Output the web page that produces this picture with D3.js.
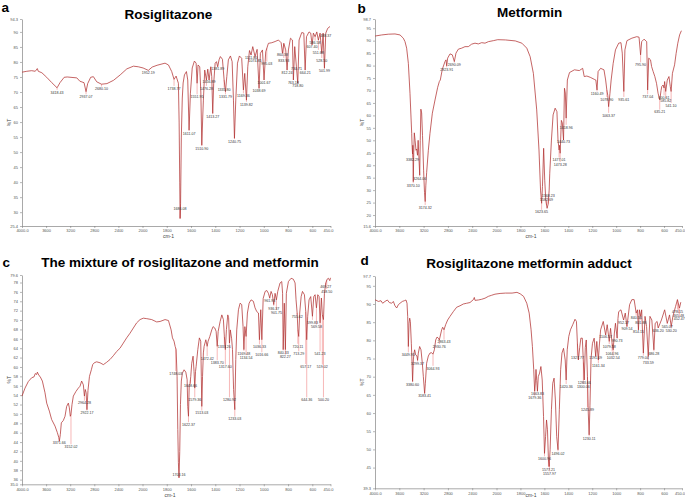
<!DOCTYPE html>
<html>
<head>
<meta charset="utf-8">
<script src="https://cdn.jsdelivr.net/npm/d3@7/dist/d3.min.js"></script>
<style>
  body { margin: 0; background: #fff; }
  svg { display: block; font-family: "Liberation Sans", Arial, sans-serif; }
</style>
</head>
<body>
<svg id="chart" width="685" height="499"></svg>
<script>
// FTIR spectra, four panels. Wavenumber (cm-1) against %T.

const xTicks = [4000, 3600, 3200, 2800, 2400, 2000, 1800, 1600, 1400, 1200, 1000, 800, 600, 450];

const titles = ["Rosiglitazone", "Metformin", "The mixture of rosiglitazone and metformin", "Rosiglitazone metformin adduct"];
const letters = ["a", "b", "c", "d"];

const yTicksA = [30, 35, 40, 45, 50, 55, 60, 65, 70, 75, 80, 85, 90];
const yTicksB = [20, 25, 30, 35, 40, 45, 50, 55, 60, 65, 70, 75, 80, 85, 90, 95];
const yTicksC = [36, 38, 40, 42, 44, 46, 48, 50, 52, 54, 56, 58, 60, 62, 64, 66, 68, 70, 72, 74, 76, 78];
const yTicksD = [45, 50, 55, 60, 65, 70, 75, 80, 85, 90, 95];

const yEndsA = [25.4, 94.3];
const yEndsB = [15.6, 98.7];
const yEndsC = [35.0, 79.6];
const yEndsD = [39.3, 97.7];

// [wavenumber, %T]
const specA = [
  [4000,76.6],[3920,76.9],[3840,77.1],[3780,76.9],[3746,77.8],[3730,76.9],[3670,76.4],[3590,74.9],[3505,73.1],[3418,71.4],
  [3370,73.1],[3300,74.9],[3250,75.0],[3090,74.7],[3040,73.6],[2970,73.1],[2937,70.1],[2910,72.8],[2860,74.9],[2815,75.1],
  [2760,73.4],[2680,72.6],[2590,72.8],[2480,73.9],[2370,75.7],[2260,77.7],[2150,78.6],[2070,78.4],[1995,78.0],[1952,77.2],
  [1920,78.3],[1880,78.9],[1814,79.6],[1786,79.0],[1759,76.8],[1740,74.2],[1723,75.3],[1704,72.9],[1698,60],[1693,40],
  [1690,27.9],[1686,33],[1680,55],[1672,68],[1665,73],[1654,75.7],[1638,76.8],[1627,74],[1616,57.3],[1605,69.6],
  [1590,78],[1572,80.3],[1558,79.6],[1550,72.9],[1542,79],[1528,78.4],[1519,70],[1511,52.3],[1503,62],[1498,67.3],
  [1487,77.3],[1473,74],[1462,77.6],[1451,74],[1437,78.4],[1429,75.1],[1421,62.9],[1413,72.9],[1401,79.6],[1390,80.1],
  [1380,78.4],[1369,80.7],[1358,81.8],[1341,80.9],[1327,74],[1316,70.1],[1305,75.1],[1292,80.7],[1275,82],[1261,80.1],
  [1250,67.3],[1242,54.6],[1231,67.3],[1217,79.6],[1201,82],[1182,81.2],[1168,70.7],[1157,76.2],[1143,67.3],[1132,78.4],
  [1118,83.8],[1105,82.3],[1091,85.1],[1072,81.8],[1055,84.2],[1039,71.2],[1028,82.9],[1011,84],[998,74],[984,83.4],
  [962,86.2],[934,86.4],[907,86.8],[879,87.3],[857,86.4],[846,82.9],[835,86.2],[819,84],[808,77.3],[797,84],
  [780,87.9],[764,87.3],[756,74],[745,85.1],[731,78.4],[720,72.9],[709,87.3],[687,89.8],[670,89.6],[659,77.3],
  [648,88.4],[627,90],[613,89.6],[602,85.7],[591,89.6],[577,88.4],[563,90],[550,87.3],[536,89.6],[522,82.9],
  [511,89.6],[500,77.9],[489,89.6],[473,91.2],[454,91.8]
];

const specB = [
  [4000,91.8],[3989,91.9],[3890,92.3],[3781,92.6],[3671,92.7],[3588,92.3],[3534,91.0],[3506,89.6],[3479,87.0],[3451,80.9],
  [3424,68.9],[3396,52.8],[3388,47],[3382,44.5],[3377,48],[3370,33.4],[3362,45],[3353,53],[3340,50],[3325,46],
  [3314,46.5],[3300,44],[3290,50],[3275,42],[3264,36],[3255,50],[3245,62.5],[3232,61],[3218,52],[3200,38],
  [3185,29],[3174,25.4],[3163,32],[3150,37],[3122,46],[3095,52.8],[3056,60.9],[3012,66.2],[2968,71.3],[2941,73.6],
  [2925,74.2],[2892,78.5],[2848,81.6],[2831,82.3],[2820,79.9],[2804,83],[2765,84.7],[2727,84.3],[2694,81.6],[2667,85],
  [2628,86.6],[2573,87],[2519,87.6],[2464,87.6],[2409,88.6],[2354,89],[2299,88.7],[2244,89.2],[2189,89],[2134,89.6],
  [2052,90],[1990,90.4],[1925,90.3],[1843,89.9],[1788,89],[1747,87],[1719,83.6],[1692,76.9],[1664,62.2],[1645,46.1],
  [1632,30],[1623,24.7],[1616,31.4],[1606,46.8],[1597,34],[1588,26],[1582,24],[1577,22.7],[1568,24.5],[1560,30],
  [1555,36.8],[1541,50.1],[1527,60.2],[1510,62.9],[1495,61.5],[1486,50.1],[1477,46.1],[1473,48],[1468,44.8],[1458,58],
  [1450,57],[1440,50.1],[1432,70.9],[1425,69],[1418,58.9],[1408,74.2],[1390,77.2],[1349,78.3],[1308,78],[1280,78.9],
  [1267,75.6],[1245,75.8],[1217,75.3],[1184,74.5],[1170,74.2],[1160,70.2],[1151,77.6],[1130,78.9],[1102,78.3],[1088,74.2],
  [1078,70.2],[1070,68],[1063,63.5],[1052,68.9],[1042,74.2],[1025,80.9],[1006,86.3],[979,89],[960,89.2],[949,85],
  [936,69.6],[927,86.3],[910,90],[869,91],[828,91.6],[809,91.4],[796,84.3],[787,89.6],[767,90.6],[745,89.6],
  [737,70.2],[728,83],[713,82.3],[704,79.6],[691,77.6],[677,75.6],[663,72.9],[650,68.9],[636,66.2],[625,70],
  [619,71.6],[608,72.2],[600,71],[595,73.6],[586,69.6],[573,74.2],[559,75.6],[548,71.6],[541,69.6],[530,76.9],
  [512,80.3],[499,84.9],[485,89],[470,92.3],[455,94]
];

const specC = [
  [4000,53.8],[3950,55.5],[3895,56.9],[3840,57.7],[3800,57.9],[3780,58.6],[3757,58.4],[3745,58.9],[3720,58.2],[3701,58],
  [3662,57],[3618,54.5],[3590,52.3],[3546,50.6],[3508,48.8],[3452,47.4],[3413,46],[3390,45],[3380,44.2],[3364,45.6],
  [3347,48.1],[3314,48.6],[3286,49.5],[3259,51.6],[3231,52.3],[3214,51.3],[3198,49.5],[3187,49.9],[3170,52],[3148,53.8],
  [3104,54.8],[3065,55.5],[3037,55.9],[3010,57],[2982,56.2],[2964,53.8],[2950,55.2],[2935,54.5],[2922,50.9],[2905,55],
  [2880,58],[2849,59.4],[2827,60.5],[2800,60.9],[2761,61.1],[2705,60.9],[2650,60.5],[2595,61],[2539,61.6],[2484,62.4],
  [2429,63.3],[2373,64],[2318,65.1],[2263,66.2],[2207,67.2],[2152,68.3],[2097,69.4],[2041,70.1],[1993,70.4],[1965,70.3],
  [1924,70.1],[1883,69.6],[1855,69.7],[1814,70.1],[1786,69.9],[1764,67.9],[1753,66.2],[1740,65.5],[1731,64.4],[1723,63.7],
  [1715,58],[1709,46.7],[1704,39.6],[1699,36.4],[1693,42],[1687,52],[1680,57],[1671,58.7],[1657,59.4],[1643,58.9],
  [1632,57.3],[1627,51.6],[1621,49.5],[1615,56],[1608,56.5],[1602,58],[1594,60.8],[1583,62.3],[1575,59],[1569,55.5],
  [1563,59],[1558,60.1],[1544,63.7],[1531,66.2],[1520,65.5],[1515,58],[1511,51.6],[1505,58],[1498,63],[1492,64.4],
  [1478,65.8],[1467,64.4],[1459,65.5],[1445,66.5],[1429,67.9],[1418,68.6],[1404,68.3],[1393,67.6],[1384,64.4],[1376,67.6],
  [1360,69.7],[1346,71.1],[1333,70.1],[1325,66.5],[1317,63.7],[1308,68],[1297,71.1],[1290,70.5],[1283,65.1],[1276,67.9],
  [1265,66],[1258,63.7],[1249,55.2],[1239,50.9],[1231,61.6],[1223,67.9],[1209,72.2],[1195,73.6],[1182,73.3],[1171,68.6],
  [1164,63.7],[1156,68.6],[1146,66.5],[1135,71.5],[1121,73.6],[1105,74.3],[1086,74],[1072,72.6],[1058,71.8],[1044,71.5],
  [1036,65.8],[1025,72.2],[1016,65.8],[1005,74.6],[989,76.1],[975,76.3],[962,75.7],[951,74.7],[940,76.1],[929,75.4],
  [918,73.3],[907,75.7],[896,74.3],[885,76.1],[866,77.9],[852,78.2],[845,75.7],[840,63.7],[831,73.6],[822,63.7],
  [814,75.7],[797,78.2],[775,78.9],[756,78.7],[742,77.9],[734,74.3],[725,71.5],[719,68],[712,66.5],[704,71.5],
  [692,75],[681,76.1],[665,75.4],[654,71.8],[646,65.8],[638,70.8],[627,74.3],[613,75],[599,70.8],[588,75],
  [577,75.4],[566,72.6],[555,75.4],[544,75],[536,69.4],[525,74.7],[517,71.1],[508,70.1],[500,75.7],[489,77.9],
  [478,78.7],[467,78.9],[456,78.4],[450,79]
];

const specD = [
  [4000,91.0],[3989,91.1],[3945,90.7],[3901,90.9],[3874,90.2],[3835,90.7],[3797,91.1],[3764,90.4],[3726,90.2],[3698,90.7],
  [3671,89.5],[3643,88.9],[3616,89.8],[3588,90.2],[3550,90.7],[3517,90.9],[3490,91.1],[3473,90.2],[3462,86.6],[3451,78.3],
  [3440,84.7],[3429,86.1],[3418,85.2],[3402,79.2],[3390,73.7],[3381,68.7],[3369,74.6],[3358,76.5],[3347,77.4],[3331,76],
  [3309,75.7],[3299,74.5],[3287,76.5],[3265,78.3],[3243,77.4],[3221,73.7],[3204,70],[3183,65.4],[3171,68.2],[3150,73.7],
  [3122,75.7],[3095,76.5],[3067,76.6],[3045,76.2],[3023,77.4],[3001,80.1],[2979,80.9],[2957,80.6],[2941,80.1],[2903,82.9],
  [2886,83.6],[2864,82.9],[2837,84.3],[2804,85.6],[2765,86.6],[2711,87.9],[2656,89.1],[2601,89.5],[2546,90],[2491,90.2],
  [2436,90.4],[2381,91.2],[2365,91.8],[2354,91],[2299,91.1],[2244,91.3],[2189,91.6],[2134,92.1],[2080,92.4],[2025,92.7],
  [1970,92.9],[1925,93],[1870,93],[1829,93.2],[1802,92.8],[1774,92.1],[1747,90.2],[1727,87.5],[1711,82.9],[1700,78.3],
  [1689,71.9],[1681,66],[1676,68],[1670,72],[1664,69],[1658,66],[1651,70],[1640,71],[1629,72.8],[1618,69.1],
  [1607,59],[1599,48.9],[1590,53.5],[1582,58.1],[1574,55.4],[1566,47.1],[1560,45.3],[1552,49.9],[1541,60.9],[1530,68.2],
  [1519,69.6],[1508,63.6],[1497,53.5],[1486,49.9],[1475,60.9],[1464,71.9],[1453,76.5],[1440,77.8],[1426,74.6],[1418,69.1],
  [1409,77.4],[1396,81.1],[1382,82.9],[1363,84.3],[1344,85.8],[1332,85.2],[1324,79.2],[1316,74.6],[1305,78],[1295,80.6],
  [1283,80.6],[1274,74],[1267,69.1],[1258,78],[1250,80.1],[1240,70],[1233,60],[1226,54],[1219,62],[1210,75],
  [1198,79.2],[1184,80.6],[1171,75.6],[1162,79.7],[1149,74.6],[1140,79],[1130,82.9],[1108,85.2],[1088,81.5],[1075,84.3],
  [1058,79.7],[1047,83.3],[1034,79.2],[1025,77.4],[1015,82],[1006,84.7],[992,80.6],[985,86],[979,87.9],[960,88.4],
  [938,85.6],[924,87.5],[910,83.8],[888,89.8],[869,91.2],[850,91.2],[833,87.5],[822,88.4],[814,82.9],[806,88.4],
  [795,86.6],[787,88.4],[773,76.5],[759,86.6],[746,83.8],[732,75.6],[718,86.6],[702,85.6],[685,77.4],[674,84.7],
  [658,85.2],[649,83.4],[622,85.6],[595,88.4],[573,84.7],[554,87],[540,83.8],[526,86.6],[504,89.3],[488,91.2],
  [471,88.9],[460,90.5]
];

// [wavenumber of the marked band, label text, %T level of the label]
const peaksA = [
  [3418,"3418.43",69.9],[2937,"2937.07",68.4],[2680,"2680.10",71.0],[1952,"1952.19",76.3],[1740,"1738.77",71.2],
  [1690,"1686.08",31.2],[1616,"1611.07",56.2],[1550,"1551.95",68.4],[1511,"1510.90",51.2],[1473,"1476.28",71.2],
  [1451,"1456.89",73.3],[1421,"1413.27",61.8],[1380,"1381.89",77.6],[1327,"1335.80",70.6],[1316,"1331.79",68.4],
  [1242,"1240.75",53.5],[1168,"1169.36",68.7],[1143,"1139.82",65.9],[1105,"1111.80",81.5],[1072,"1074.85",80.3],
  [1039,"1038.69",70.4],[998,"1001.67",73.2],[975,"995.03",79.3],[846,"860.38",82.3],[835,"833.93",80.5],
  [808,"812.24",76.5],[756,"763.18",73.2],[731,"730.71",77.6],[720,"718.80",72.0],[659,"664.21",76.5],
  [602,"607.40",85.0],[577,"586.58",86.3],[550,"551.68",83.2],[522,"528.50",80.5],[500,"501.99",77.0],[489,"488.37",88.7]
];

const peaksB = [
  [3382,"3382.29",42.1],[3370,"3370.10",31.8],[3264,"3264.06",34.5],[3174,"3174.32",23.0],[2820,"2823.91",78.3],
  [2694,"2690.09",80.2],[1623,"1623.65",21.1],[1568,"1568.23",27.8],[1582,"1582.69",26.2],[1477,"1477.01",42.1],
  [1468,"1473.28",40.3],[1440,"1440.73",49.5],[1418,"1418.96",55.2],[1160,"1160.49",68.6],[1078,"1078.90",66.4],
  [1063,"1063.37",60.0],[936,"935.61",66.4],[796,"795.90",80.3],[737,"737.04",67.5],[636,"635.21",61.3],
  [600,"600.61",67.0],[586,"585.82",65.8],[541,"541.10",64.0]
];

const peaksC = [
  [3380,"3371.66",43.8],[3187,"3152.02",43.0],[2964,"2964.28",52.3],[2922,"2922.17",50.2],[1726,"1748.03",58.6],
  [1699,"1703.16",37.1],[1621,"1622.37",47.7],[1605,"1608.66",55.9],[1569,"1579.36",53.0],[1511,"1513.03",50.2],
  [1467,"1472.42",61.8],[1384,"1383.70",60.9],[1325,"1333.26",64.2],[1317,"1317.60",60.0],[1283,"1280.92",53.0],
  [1239,"1233.03",48.9],[1164,"1169.48",62.9],[1146,"1134.54",62.0],[1036,"1036.33",64.3],[1016,"1016.66",62.6],
  [951,"961.93",74.0],[918,"936.37",72.5],[896,"901.75",71.6],[840,"840.33",63.0],[822,"822.27",62.1],
  [725,"755.62",70.6],[719,"720.11",64.4],[712,"713.29",62.8],[654,"657.17",60.1],[646,"644.36",53.0],
  [599,"599.83",69.5],[566,"569.58",68.5],[536,"541.23",62.8],[517,"519.02",60.0],[508,"500.20",53.0],
  [489,"469.27",77.0],[481,"458.50",76.1]
];

const peaksD = [
  [3451,"3449.95",76.0],[3381,"3380.60",67.8],[3299,"3299.37",73.5],[3183,"3183.41",64.8],[3045,"3064.93",72.3],
  [2941,"2930.76",78.3],[2864,"2863.43",79.5],[1681,"1679.36",64.1],[1658,"1663.83",65.3],[1599,"1600.96",47.4],
  [1566,"1577.21",44.5],[1558,"1557.97",43.3],[1486,"1496.02",48.8],[1418,"1420.36",67.3],[1324,"1327.77",75.1],
  [1274,"1300.06",67.3],[1267,"1283.66",68.4],[1240,"1245.89",60.9],[1226,"1230.11",52.9],[1171,"1191.09",75.1],
  [1149,"1161.34",73.0],[1088,"1106.57",81.0],[1058,"1079.58",78.3],[1034,"1064.96",76.3],[1025,"1032.54",75.1],
  [992,"990.73",80.0],[938,"952.17",84.9],[910,"909.54",83.3],[833,"840.56",86.1],[814,"814.15",82.4],
  [795,"801.88",84.9],[773,"779.04",75.1],[732,"733.59",73.9],[685,"686.28",76.3],[649,"636.20",82.7],
  [573,"565.07",83.8],[540,"530.20",82.6],[488,"478.15",87.8],[480,"465.48",86.8],[472,"452.47",85.8]
];

// Panel layout (pixel boxes of each plot area)
const panels = [
  { letter: letters[0], title: titles[0], spec: specA, peaks: peaksA, yTicks: yTicksA, yEnds: yEndsA,
    box: { left: 22, right: 330.5, brk: 142.5, top: 19, bottom: 226 },
    letterPos: [1.5, 12], titlePos: [168.5, 18.5], unitPos: [168.5, 237.5] },
  { letter: letters[1], title: titles[1], spec: specB, peaks: peaksB, yTicks: yTicksB, yEnds: yEndsB,
    box: { left: 375, right: 682, brk: 496.5, top: 19, bottom: 226 },
    letterPos: [357.5, 12.5], titlePos: [529.7, 16.5], unitPos: [531, 237.5] },
  { letter: letters[2], title: titles[2], spec: specC, peaks: peaksC, yTicks: yTicksC, yEnds: yEndsC,
    box: { left: 22, right: 330.5, brk: 142.5, top: 275, bottom: 484.3 },
    letterPos: [2.5, 266.5], titlePos: [180, 266.5], unitPos: [170, 496.5] },
  { letter: letters[3], title: titles[3], spec: specD, peaks: peaksD, yTicks: yTicksD, yEnds: yEndsD,
    box: { left: 375, right: 682, brk: 496.5, top: 276, bottom: 488.3 },
    letterPos: [360.5, 265], titlePos: [529, 267.5], unitPos: [531, 497] }
];

const svg = d3.select("#chart");

// linear interpolation of %T on a spectrum at a given wavenumber (for marker lines)
function tAt(spec, wn) {
  for (let i = 0; i < spec.length - 1; i++) {
    const a = spec[i], b = spec[i + 1];
    if (a[0] >= wn && b[0] <= wn) {
      const f = (a[0] - wn) / (a[0] - b[0]);
      return a[1] + f * (b[1] - a[1]);
    }
  }
  return spec[spec.length - 1][1];
}

panels.forEach(p => {
  const b = p.box;
  const g = svg.append("g");

  const x = d3.scaleLinear()
    .domain([4000, 2000, 450])
    .range([b.left, b.brk, b.right]);

  const y = d3.scaleLinear()
    .domain(p.yEnds)
    .range([b.bottom, b.top]);

  // x axis
  const xAxis = g.append("g")
    .attr("transform", `translate(0,${b.bottom})`)
    .call(d3.axisBottom(x)
      .tickValues(xTicks)
      .tickSize(2)
      .tickSizeOuter(0)
      .tickPadding(1.5)
      .tickFormat(d => (d === 4000 || d === 450) ? d.toFixed(1) : d));

  // keep the last tick label inside the picture
  xAxis.selectAll(".tick text")
    .filter(d => d === 450)
    .attr("text-anchor", "end")
    .attr("dx", "2.5");

  // y axis
  const yAxis = g.append("g")
    .attr("transform", `translate(${b.left},0)`)
    .call(d3.axisLeft(y)
      .tickValues(p.yTicks.concat(p.yEnds))
      .tickSize(2)
      .tickSizeOuter(0)
      .tickPadding(2)
      .tickFormat(d => p.yEnds.includes(d) ? d.toFixed(1) : d));

  [xAxis, yAxis].forEach(ax => {
    ax.select(".domain").attr("stroke", "#6f6f6f").attr("stroke-width", 0.6);
    ax.selectAll(".tick line").attr("stroke", "#6f6f6f").attr("stroke-width", 0.5);
    ax.selectAll(".tick text")
      .attr("fill", "#555")
      .style("font-size", "4px")
      .style("font-family", "Liberation Sans, Arial, sans-serif");
  });

  // axis titles
  g.append("text")
    .attr("x", p.unitPos[0])
    .attr("y", p.unitPos[1])
    .attr("text-anchor", "middle")
    .attr("fill", "#444")
    .style("font-size", "5px")
    .text("cm-1");

  g.append("text")
    .attr("transform", `translate(${b.left - 11},${(b.top + b.bottom) / 2}) rotate(-90)`)
    .attr("text-anchor", "middle")
    .attr("fill", "#444")
    .style("font-size", "5px")
    .text("%T");

  // peak marker lines
  g.selectAll(".mark")
    .data(p.peaks)
    .enter()
    .append("line")
    .attr("x1", d => x(d[0]))
    .attr("x2", d => x(d[0]))
    .attr("y1", d => y(tAt(p.spec, d[0])))
    .attr("y2", d => {
      const cy = y(tAt(p.spec, d[0]));
      const ly = y(d[2]);
      return ly > cy ? ly - 2.5 : ly + 1;
    })
    .attr("stroke", "#f39a9a")
    .attr("stroke-width", 0.7);

  // spectrum
  const line = d3.line()
    .x(d => x(d[0]))
    .y(d => y(d[1]));

  g.append("path")
    .datum(p.spec)
    .attr("d", line)
    .attr("fill", "none")
    .attr("stroke", "#b23232")
    .attr("stroke-width", 0.75)
    .attr("stroke-linejoin", "round");

  // peak labels
  g.selectAll(".peak-label")
    .data(p.peaks)
    .enter()
    .append("text")
    .attr("x", d => x(d[0]))
    .attr("y", d => y(d[2]) + 1.2)
    .attr("text-anchor", "middle")
    .attr("fill", "#333")
    .style("font-size", "3.6px")
    .text(d => d[1]);

  // panel letter and title
  g.append("text")
    .attr("x", p.letterPos[0])
    .attr("y", p.letterPos[1])
    .attr("font-weight", "bold")
    .style("font-size", "13.5px")
    .attr("fill", "#000")
    .text(p.letter);

  g.append("text")
    .attr("x", p.titlePos[0])
    .attr("y", p.titlePos[1])
    .attr("text-anchor", "middle")
    .attr("font-weight", "bold")
    .style("font-size", "13.5px")
    .attr("fill", "#000")
    .text(p.title);
});
</script>
</body>
</html>
